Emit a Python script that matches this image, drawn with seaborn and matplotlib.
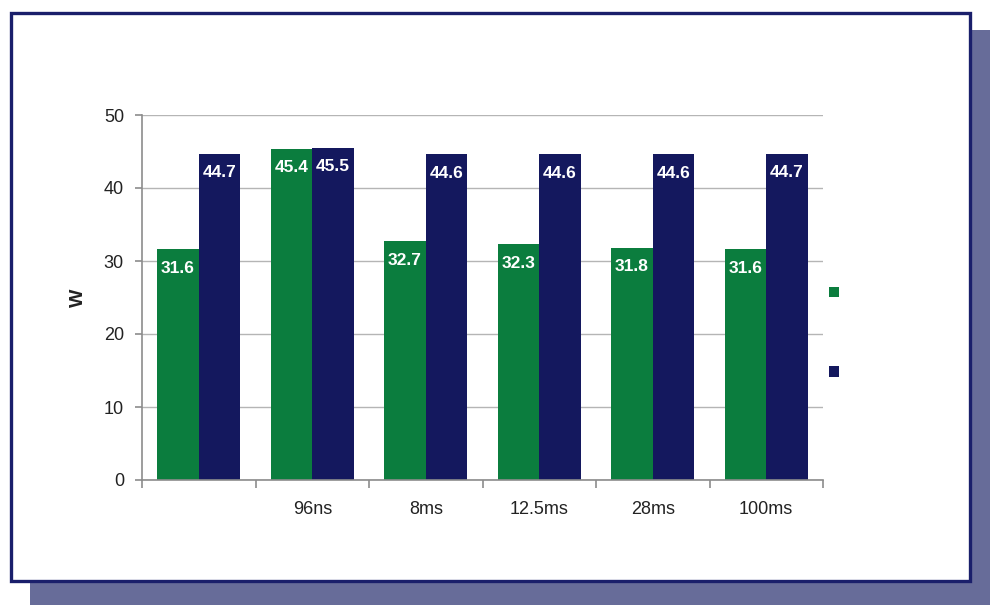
import matplotlib
matplotlib.use("Agg")
import matplotlib.pyplot as plt
from matplotlib.patches import Rectangle
from matplotlib.ticker import FixedLocator
import seaborn as sns
import pandas as pd

categories = ["", "96ns", "8ms", "12.5ms", "28ms", "100ms"]
series_names = ["A", "B"]
green_vals = [31.6, 45.4, 32.7, 32.3, 31.8, 31.6]
navy_vals = [44.7, 45.5, 44.6, 44.6, 44.6, 44.7]
y_ticks = [0, 10, 20, 30, 40, 50]
y_label = "W"

GREEN = "#0B7D3E"
NAVY = "#14185E"

rows = []
for c, g, n in zip(categories, green_vals, navy_vals):
    rows.append({"cat": c, "series": series_names[0], "val": g})
    rows.append({"cat": c, "series": series_names[1], "val": n})
df = pd.DataFrame(rows)

sns.set_style("white")
plt.rcParams["font.family"] = ["Liberation Sans", "DejaVu Sans"]

fig = plt.figure(figsize=(9.98, 6.07), dpi=100)
W, H = 998, 607

def fr(x0, y0, x1, y1):
    return (x0 / W, 1 - y1 / H), (x1 - x0) / W, (y1 - y0) / H

# shadow
xy, w, h = fr(30, 30, 990, 605)
fig.patches.append(Rectangle(xy, w, h, transform=fig.transFigure,
                             facecolor="#676C99", edgecolor="none", zorder=0))
# frame
xy, w, h = fr(11, 13, 970, 581)
fig.patches.append(Rectangle(xy, w, h, transform=fig.transFigure,
                             facecolor="white", edgecolor="#1A1F6B",
                             linewidth=2.4, zorder=1))

ax = fig.add_axes([142 / W, 1 - 480 / H, (823 - 142) / W, (480 - 115) / H])
ax.set_facecolor("none")
ax.set_zorder(2)

sns.barplot(data=df, x="cat", y="val", hue="series", order=categories,
            hue_order=series_names, palette=[GREEN, NAVY], width=0.73,
            saturation=1, ax=ax, legend=False, edgecolor="none")

for cont in ax.containers:
    ax.bar_label(cont, fmt="%.1f", padding=-19, color="white",
                 fontsize=12.5, fontweight="bold")

ax.set_xlim(-0.5, len(categories) - 0.5)
ax.set_ylim(0, 50)
ax.set_yticks(y_ticks)
ax.yaxis.grid(True, color="#B5B5B5", linewidth=1)
ax.set_axisbelow(True)

for s in ["top", "right"]:
    ax.spines[s].set_visible(False)
for s in ["left", "bottom"]:
    ax.spines[s].set_color("#8C8C8C")
    ax.spines[s].set_linewidth(1.2)

ax.set_xticks(range(len(categories)))
ax.set_xticklabels(categories)
ax.xaxis.set_minor_locator(FixedLocator([i - 0.5 for i in range(len(categories) + 1)]))
ax.tick_params(axis="x", which="major", length=0, pad=15, labelsize=13, colors="#222222")
ax.tick_params(axis="x", which="minor", length=6, width=1.2, color="#8C8C8C", bottom=True)
ax.tick_params(axis="y", length=5, width=1.2, color="#8C8C8C", left=True,
               labelsize=13, labelcolor="#222222", pad=8)

ax.set_xlabel("")
ax.set_ylabel(y_label, fontsize=14, fontweight="bold", color="#222222")
ax.yaxis.set_label_coords(-0.081, 0.5)

# legend (empty labels)
handles = [Rectangle((0, 0), 1, 1, facecolor=GREEN, edgecolor="none"),
           Rectangle((0, 0), 1, 1, facecolor=NAVY, edgecolor="none")]
leg = fig.legend(handles, ["", ""], loc="center", frameon=False,
                 bbox_to_anchor=(834 / W, 1 - 333.5 / H),
                 handlelength=0.55, handleheight=0.55, fontsize=12.5,
                 labelspacing=3.7, handletextpad=0, borderpad=0)

fig.savefig("out.png", dpi=100)
